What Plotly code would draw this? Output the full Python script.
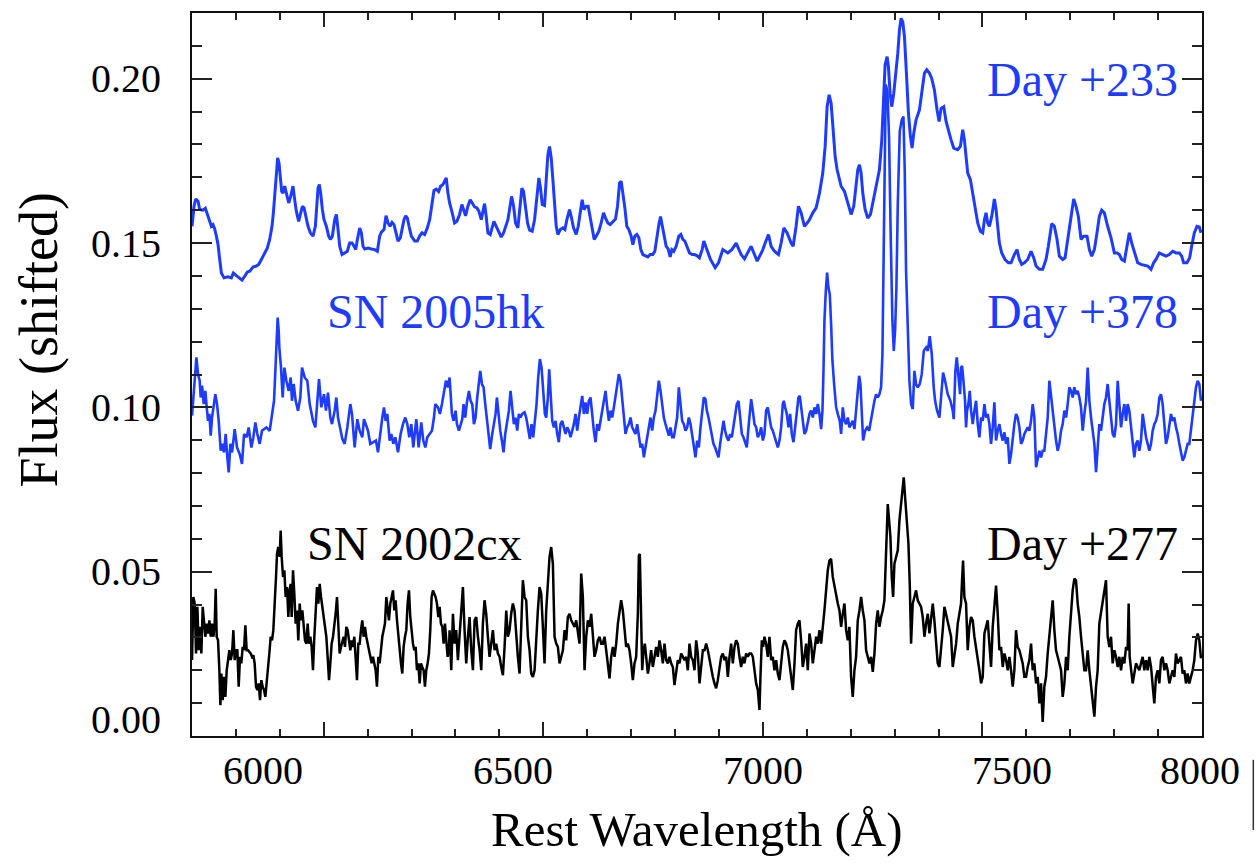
import plotly.graph_objects as go

# ---------------- data ----------------
wl_233 = [
5700.1, 5704.6, 5708.4, 5713.8, 5717.5, 5725.1, 5730.4, 5735.0, 5740.3, 5744.1,
5747.9, 5751.7, 5755.5, 5759.3, 5763.1, 5766.9, 5773.0, 5782.0, 5789.6, 5794.2,
5801.0, 5806.3, 5813.9, 5820.0, 5826.1, 5831.4, 5839.0, 5846.5, 5851.9, 5858.0,
5865.5, 5871.6, 5876.9, 5882.2, 5885.3, 5888.3, 5890.6, 5892.8, 5895.1, 5898.2,
5901.2, 5904.2, 5907.3, 5911.1, 5914.9, 5920.2, 5924.7, 5930.0, 5933.8, 5937.6,
5942.9, 5947.5, 5951.3, 5955.1, 5959.6, 5964.2, 5969.5, 5975.6, 5980.9, 5983.9,
5987.0, 5990.0, 5993.0, 5996.9, 6000.7, 6006.0, 6011.3, 6015.1, 6019.6, 6025.0,
6028.8, 6032.6, 6036.4, 6041.7, 6047.8, 6053.8, 6059.1, 6064.4, 6069.0, 6072.8,
6076.6, 6081.9, 6085.7, 6089.5, 6093.3, 6100.9, 6108.5, 6116.1, 6122.1, 6127.4,
6131.2, 6137.3, 6141.8, 6146.4, 6150.9, 6155.5, 6160.0, 6165.3, 6169.1, 6174.4,
6179.0, 6182.8, 6186.6, 6190.4, 6194.2, 6199.5, 6207.1, 6213.1, 6218.4, 6223.8,
6229.8, 6235.9, 6241.2, 6246.5, 6251.0, 6256.3, 6261.6, 6266.2, 6271.5, 6276.8,
6279.0, 6282.8, 6286.6,
6292.6, 6297.9, 6303.3, 6309.3, 6314.6, 6318.4, 6323.0, 6328.3, 6333.6, 6338.2,
6343.5, 6348.8, 6353.3, 6358.7, 6362.4, 6366.2, 6370.0, 6373.8, 6379.1, 6383.7,
6387.5, 6392.8, 6398.9, 6404.2, 6409.5, 6414.0, 6419.4, 6423.1, 6427.7, 6432.3,
6436.8, 6442.1, 6446.7, 6451.2, 6455.0, 6459.6, 6464.1, 6468.7, 6474.7, 6480.1,
6485.4, 6489.9, 6493.7, 6497.5, 6502.8, 6506.6, 6510.4, 6514.2, 6518.0, 6521.8,
6525.6, 6529.4, 6533.2, 6538.5, 6544.6, 6549.1, 6553.7, 6559.7, 6564.3, 6568.8,
6574.9, 6579.5, 6584.0, 6588.6, 6592.4, 6597.7, 6602.2, 6606.8, 6611.3, 6615.9,
6620.4, 6626.5, 6631.8, 6637.1, 6641.7, 6647.0, 6652.3, 6658.4, 6664.4, 6669.0,
6673.6, 6677.3, 6681.1, 6685.7, 6690.2, 6694.8, 6700.1, 6703.9, 6708.5, 6713.0,
6717.6, 6722.1, 6726.7, 6732.7, 6738.1, 6743.4, 6749.4, 6754.0, 6758.5, 6763.1,
6766.9, 6770.7, 6774.5, 6779.8, 6784.3, 6788.9, 6792.7, 6797.2, 6802.5, 6808.6,
6813.2, 6817.7, 6822.3, 6826.8, 6832.9, 6838.9, 6844.3, 6849.6, 6855.6, 6861.7,
6865.5,
6880.7, 6891.3, 6898.9, 6908.8, 6920.2, 6929.3, 6939.2, 6950.5, 6958.1, 6965.7,
6973.3, 6980.9, 6987.0, 6994.5, 6999.9, 7005.2, 7012.8, 7018.8, 7026.4, 7035.5,
7041.6, 7047.7, 7055.2, 7064.4, 7068.9, 7075.7, 7081.0, 7087.1, 7094.7, 7100.8,
7106.1, 7113.7, 7121.3, 7128.9, 7136.4, 7141.8, 7146.3, 7150.9, 7155.4, 7160.0,
7164.5, 7169.1, 7178.2, 7185.8, 7193.4, 7201.0, 7207.0, 7212.3, 7216.1, 7219.9,
7223.7, 7227.5, 7232.8, 7238.9, 7245.0, 7250.3, 7257.9, 7265.4, 7270.8, 7274.5,
7278.3, 7282.9, 7285.9, 7289.7, 7293.5, 7298.1, 7303.4, 7307.2, 7311.0, 7314.8,
7318.6, 7322.4, 7326.9, 7331.5, 7336.0, 7339.8, 7343.6, 7348.9, 7356.5, 7361.8,
7367.9, 7373.2, 7379.2, 7384.6, 7390.6, 7396.7, 7401.3, 7405.8, 7411.9, 7417.2,
7422.5, 7428.6, 7434.6, 7443.7,
7449.8, 7455.1, 7458.9, 7462.7, 7466.5, 7472.6, 7477.9, 7483.2, 7489.3, 7495.4,
7500.7, 7504.5, 7508.3, 7512.0, 7515.8, 7521.2, 7527.2, 7531.0, 7534.8, 7538.6,
7543.9, 7551.5, 7559.1, 7565.2, 7572.7, 7578.8, 7584.1, 7589.4, 7595.5, 7603.1,
7610.7, 7616.8, 7622.1, 7629.7, 7637.2, 7644.8, 7650.1, 7654.7, 7657.7, 7663.8,
7669.9, 7675.2, 7682.8, 7688.1, 7694.2, 7701.7, 7707.8, 7713.1, 7718.4, 7724.5,
7730.6, 7738.2, 7743.5, 7748.8, 7754.9, 7760.9, 7766.2, 7771.6, 7777.6, 7785.2,
7792.8, 7800.4, 7806.5, 7811.8, 7817.1, 7823.2, 7829.2, 7834.5, 7839.9, 7845.9,
7853.5, 7861.1, 7868.7, 7876.3, 7883.9, 7889.9, 7895.2, 7902.8, 7910.4, 7918.0,
7925.6, 7933.2, 7940.8, 7948.4, 7953.7, 7958.2, 7965.8, 7971.9, 7976.4, 7982.5,
7988.6, 7993.9, 7997.7,
]
flux_233 = [
0.1551, 0.1612, 0.1634, 0.1627, 0.1602, 0.1600, 0.1606, 0.1587, 0.1561, 0.1551,
0.1556, 0.1543, 0.1521, 0.1495, 0.1450, 0.1409, 0.1394, 0.1397, 0.1394, 0.1409,
0.1401, 0.1394, 0.1387, 0.1399, 0.1412, 0.1414, 0.1427, 0.1430, 0.1435, 0.1450,
0.1470, 0.1485, 0.1511, 0.1551, 0.1592, 0.1652, 0.1703, 0.1743, 0.1759, 0.1743,
0.1703, 0.1657, 0.1652, 0.1673, 0.1652, 0.1622, 0.1642, 0.1673, 0.1632, 0.1597,
0.1566, 0.1592, 0.1612, 0.1607, 0.1576, 0.1551, 0.1531, 0.1521, 0.1551, 0.1612,
0.1667, 0.1678, 0.1652, 0.1602, 0.1571, 0.1551, 0.1521, 0.1511, 0.1521, 0.1571,
0.1587, 0.1541, 0.1490, 0.1465, 0.1470, 0.1475, 0.1500, 0.1500, 0.1490, 0.1480,
0.1511, 0.1546, 0.1531, 0.1490, 0.1482, 0.1485, 0.1482, 0.1480, 0.1475, 0.1521,
0.1533, 0.1541, 0.1583, 0.1561, 0.1551, 0.1563, 0.1556, 0.1531, 0.1506, 0.1516,
0.1546, 0.1571, 0.1583, 0.1576, 0.1551, 0.1521, 0.1506, 0.1506, 0.1521, 0.1531,
0.1526, 0.1546, 0.1571, 0.1622, 0.1660, 0.1664, 0.1657, 0.1673, 0.1678, 0.1693,
0.1698, 0.1652, 0.1622,
0.1592, 0.1561, 0.1566, 0.1587, 0.1617, 0.1602, 0.1583, 0.1612, 0.1632, 0.1622,
0.1610, 0.1607, 0.1597, 0.1571, 0.1597, 0.1620, 0.1581, 0.1531, 0.1526, 0.1546,
0.1566, 0.1551, 0.1531, 0.1518, 0.1531, 0.1551, 0.1571, 0.1602, 0.1642, 0.1612,
0.1561, 0.1546, 0.1602, 0.1667, 0.1657, 0.1612, 0.1561, 0.1539, 0.1536, 0.1571,
0.1632, 0.1698, 0.1667, 0.1617, 0.1614, 0.1693, 0.1769, 0.1794, 0.1759, 0.1693,
0.1612, 0.1551, 0.1526, 0.1541, 0.1546, 0.1541, 0.1571, 0.1602, 0.1576, 0.1546,
0.1526, 0.1551, 0.1592, 0.1632, 0.1602, 0.1612, 0.1612, 0.1581, 0.1546, 0.1511,
0.1521, 0.1536, 0.1561, 0.1592, 0.1576, 0.1561, 0.1556, 0.1566, 0.1573, 0.1612,
0.1683, 0.1688, 0.1657, 0.1607, 0.1551, 0.1541, 0.1521, 0.1495, 0.1521, 0.1526,
0.1516, 0.1480, 0.1465, 0.1460, 0.1458, 0.1465, 0.1465, 0.1475, 0.1521, 0.1556,
0.1581, 0.1556, 0.1521, 0.1490, 0.1482, 0.1458, 0.1480, 0.1475, 0.1490, 0.1521,
0.1526, 0.1511, 0.1506, 0.1490, 0.1470, 0.1465, 0.1465, 0.1462, 0.1455, 0.1480,
0.1506,
0.1450, 0.1425, 0.1440, 0.1480, 0.1470, 0.1480, 0.1500, 0.1465, 0.1452, 0.1472,
0.1490, 0.1465, 0.1445, 0.1465, 0.1480, 0.1500, 0.1526, 0.1490, 0.1475, 0.1465,
0.1500, 0.1546, 0.1531, 0.1500, 0.1490, 0.1551, 0.1612, 0.1592, 0.1551, 0.1561,
0.1571, 0.1592, 0.1607, 0.1652, 0.1713, 0.1794, 0.1915, 0.1951, 0.1926, 0.1845,
0.1764, 0.1723, 0.1673, 0.1657, 0.1622, 0.1587, 0.1612, 0.1673, 0.1723, 0.1738,
0.1713, 0.1652, 0.1602, 0.1576, 0.1587, 0.1622, 0.1673, 0.1723, 0.1814, 0.1946,
0.2042, 0.2067, 0.2037, 0.1956, 0.1915, 0.1956, 0.2017, 0.2077, 0.2148, 0.2184,
0.2173, 0.2128, 0.2017, 0.1895, 0.1824, 0.1789, 0.1834, 0.1875, 0.1905, 0.1966,
0.2017, 0.2027, 0.2017, 0.2001, 0.1966, 0.1905, 0.1870, 0.1910, 0.1915, 0.1870,
0.1840, 0.1814, 0.1789, 0.1784,
0.1794, 0.1845, 0.1814, 0.1764, 0.1713, 0.1693, 0.1652, 0.1602, 0.1561, 0.1536,
0.1531, 0.1571, 0.1592, 0.1561, 0.1551, 0.1581, 0.1634, 0.1602, 0.1551, 0.1500,
0.1470, 0.1450, 0.1440, 0.1440, 0.1465, 0.1480, 0.1450, 0.1435, 0.1440, 0.1450,
0.1475, 0.1455, 0.1430, 0.1420, 0.1420, 0.1450, 0.1490, 0.1531, 0.1559, 0.1551,
0.1511, 0.1460, 0.1450, 0.1455, 0.1511, 0.1592, 0.1634, 0.1612, 0.1581, 0.1511,
0.1521, 0.1521, 0.1480, 0.1460, 0.1480, 0.1531, 0.1581, 0.1600, 0.1592, 0.1551,
0.1516, 0.1470, 0.1470, 0.1465, 0.1450, 0.1445, 0.1490, 0.1531, 0.1500, 0.1470,
0.1440, 0.1435, 0.1432, 0.1430, 0.1420, 0.1440, 0.1450, 0.1470, 0.1465, 0.1460,
0.1465, 0.1475, 0.1470, 0.1470, 0.1460, 0.1440, 0.1440, 0.1455, 0.1490, 0.1531,
0.1551, 0.1549, 0.1531,
]

wl_378 = [
5700.1, 5704.6, 5710.0, 5713.8, 5717.5, 5719.8, 5722.9, 5726.7, 5730.4, 5733.5,
5736.5, 5739.6, 5742.6, 5745.6, 5749.4, 5753.2, 5757.0, 5760.8, 5765.4, 5769.1,
5772.9, 5776.7, 5780.5, 5783.6, 5787.4, 5791.2, 5797.2, 5802.5, 5808.6, 5813.9,
5818.5, 5824.5, 5829.1, 5835.2, 5839.7, 5844.3, 5848.8, 5854.1, 5859.4, 5869.3,
5876.9, 5882.2, 5886.8, 5889.8, 5892.8, 5895.1, 5897.4, 5898.9, 5902.7, 5906.5,
5910.3, 5914.9, 5920.2, 5924.7, 5927.7, 5931.5, 5936.1, 5941.4, 5946.7, 5950.5,
5956.6, 5962.6, 5968.0, 5975.5, 5980.9, 5985.4, 5989.2, 5994.5, 6000.6, 6005.1,
6009.7, 6015.0, 6018.8, 6024.9, 6028.7, 6032.5, 6037.0, 6042.3, 6047.6, 6053.7,
6060.5, 6064.3, 6070.4, 6076.5, 6081.8, 6087.8, 6091.6, 6097.0, 6100.7, 6106.0,
6112.9, 6118.9, 6123.5, 6128.8, 6133.4, 6137.2, 6141.0, 6144.7, 6150.1, 6153.9,
6158.4, 6163.0, 6169.1, 6175.1, 6180.4, 6185.7, 6190.3, 6194.8, 6199.4, 6203.9,
6207.0, 6210.8, 6216.1, 6222.1, 6226.7, 6231.3, 6235.8, 6241.1, 6246.4, 6251.0,
6254.0, 6260.1, 6264.6, 6269.2, 6273.7, 6278.3, 6282.8, 6286.6,
6291.9, 6295.7, 6300.2, 6303.3, 6307.8, 6311.6, 6315.4, 6318.4, 6322.2, 6326.0,
6330.6, 6334.4, 6338.2, 6342.0, 6345.7, 6349.5, 6353.3, 6356.4, 6360.2, 6364.0,
6367.8, 6371.6, 6375.3, 6379.1, 6383.7, 6387.5, 6391.3, 6394.3, 6398.1, 6401.9,
6405.7, 6409.5, 6413.3, 6417.8, 6421.6, 6425.4, 6429.2, 6433.0, 6436.8, 6440.6,
6444.4, 6448.2, 6452.0, 6457.3, 6461.1, 6465.6, 6469.4, 6473.2, 6477.0, 6480.8,
6484.6, 6488.4, 6492.2, 6496.0, 6499.8, 6503.6, 6506.6, 6510.4, 6513.4, 6516.5,
6520.3, 6524.1, 6527.9, 6531.7, 6535.4, 6539.2, 6543.0, 6546.8, 6550.6, 6554.4,
6558.2, 6562.0, 6565.8, 6569.6, 6573.4, 6577.2, 6581.0, 6584.8, 6588.6, 6592.4,
6596.2, 6599.9, 6603.7, 6607.5, 6611.3, 6615.1, 6618.9, 6622.7, 6626.5, 6630.3,
6634.1, 6637.9, 6641.7, 6645.5, 6649.3, 6653.1, 6656.9, 6660.7, 6664.4, 6668.2,
6672.0, 6675.8, 6679.6, 6683.4, 6687.2, 6691.0, 6694.8, 6698.6, 6702.4, 6706.2,
6710.0, 6713.8, 6717.6, 6721.4, 6725.2, 6729.0, 6732.7, 6736.5, 6740.3, 6744.1,
6747.9, 6751.7, 6755.5, 6759.3, 6763.1, 6766.9, 6770.7, 6774.5, 6778.3, 6782.1,
6785.9, 6789.6, 6793.4, 6797.2, 6801.0, 6804.8, 6808.6, 6812.4, 6816.2, 6820.0,
6823.8, 6827.6, 6831.4, 6835.2, 6839.0, 6842.8, 6846.6, 6850.4, 6854.2, 6857.9,
6861.7, 6865.5,
6869.3, 6872.4, 6876.2, 6880.0, 6883.8, 6887.5, 6891.3, 6895.1, 6898.9, 6902.7,
6906.5, 6910.3, 6914.1, 6917.9, 6921.7, 6925.5, 6929.3, 6933.1, 6936.9, 6940.7,
6944.5, 6948.3, 6952.1, 6955.8, 6959.6, 6963.4, 6967.2, 6971.0, 6973.3, 6977.1,
6980.9, 6984.7, 6988.5, 6992.3, 6996.1, 6999.9, 7003.6, 7007.4, 7011.2, 7015.0,
7018.8, 7022.6, 7026.4, 7030.2, 7034.0, 7037.8, 7041.6, 7045.4, 7047.7, 7050.7,
7054.5, 7058.3, 7062.1, 7065.9, 7069.7, 7073.5, 7077.3, 7081.0, 7084.1, 7087.1,
7090.9, 7094.7, 7098.5, 7102.3, 7106.1, 7109.9, 7113.7, 7117.5, 7121.3, 7125.1,
7128.9, 7132.7, 7135.7, 7138.0, 7140.2, 7143.3, 7146.3, 7149.3, 7152.4, 7155.4,
7158.4, 7162.2, 7166.8, 7170.6, 7175.1, 7178.2, 7182.0, 7185.8, 7189.6, 7193.4,
7197.1, 7200.9, 7204.7, 7208.5, 7212.3, 7216.1, 7219.2, 7222.2, 7225.2, 7228.3,
7232.8, 7237.4, 7241.9, 7246.5, 7250.3, 7254.1, 7257.9, 7261.6, 7265.4, 7269.2,
7272.3, 7274.5, 7276.8, 7279.8, 7283.6, 7287.4, 7291.2, 7295.0, 7298.1, 7301.1,
7304.1, 7307.2, 7311.7, 7316.3, 7320.1, 7323.1, 7326.1, 7330.0, 7333.7, 7337.5,
7341.3, 7345.1, 7348.9, 7352.7, 7357.3, 7361.8, 7366.4, 7371.7, 7375.5, 7380.0,
7384.6, 7389.1, 7392.2, 7396.7, 7402.0, 7405.8, 7410.4, 7414.9, 7421.0, 7427.1,
7432.4, 7434.6, 7438.4, 7441.5, 7445.3, 7449.1,
7451.3, 7453.6, 7456.7, 7460.4, 7462.7, 7465.0, 7468.0, 7471.1, 7474.1, 7477.9,
7481.7, 7485.5, 7489.3, 7493.1, 7496.9, 7500.7, 7504.5, 7508.3, 7512.0, 7515.8,
7519.6, 7523.4, 7527.2, 7531.0, 7534.8, 7538.6, 7542.4, 7546.2, 7550.0, 7553.8,
7557.6, 7561.4, 7565.2, 7569.0, 7572.7, 7576.5, 7580.3, 7584.1, 7587.9, 7591.7,
7595.5, 7599.3, 7603.1, 7606.9, 7610.7, 7614.5, 7618.3, 7622.1, 7625.9, 7629.7,
7633.5, 7637.2, 7641.0, 7644.8, 7648.6, 7652.4, 7656.2, 7660.0, 7663.8, 7667.6,
7671.4, 7675.2, 7679.0, 7682.8, 7686.6, 7690.4, 7694.2, 7697.9, 7701.7, 7705.5,
7709.3, 7713.1, 7716.9, 7720.7, 7724.5, 7728.3, 7732.1, 7735.9, 7739.7, 7743.5,
7747.3, 7751.1, 7754.9, 7758.7, 7762.4, 7766.2, 7770.0, 7773.8, 7777.6, 7781.4,
7785.2, 7789.0, 7792.8, 7796.6, 7800.4, 7804.2, 7808.0, 7811.8, 7815.6, 7819.4,
7823.2, 7827.0, 7830.7, 7834.5, 7838.3, 7842.1, 7845.9, 7849.7, 7853.5, 7857.3,
7861.1, 7864.9, 7868.7, 7872.5, 7876.3, 7880.1, 7883.9, 7887.7, 7891.4, 7895.2,
7899.0, 7902.8, 7906.6, 7910.4, 7914.2, 7918.0, 7921.8, 7925.6, 7929.4, 7933.2,
7937.0, 7940.8, 7944.6, 7948.4, 7952.1, 7955.9, 7959.7, 7963.5, 7967.3, 7971.1,
7974.9, 7978.7, 7982.5, 7986.3, 7990.1, 7993.9, 7997.7,
]
flux_378 = [
0.0975, 0.1061, 0.1152, 0.1101, 0.1081, 0.1030, 0.1066, 0.1010, 0.1050, 0.1000,
0.0959, 0.0980, 0.0914, 0.0969, 0.1010, 0.1040, 0.1010, 0.0959, 0.0868, 0.0889,
0.0863, 0.0919, 0.0848, 0.0802, 0.0889, 0.0863, 0.0934, 0.0878, 0.0858, 0.0828,
0.0919, 0.0909, 0.0939, 0.0878, 0.0909, 0.0954, 0.0919, 0.0889, 0.0929, 0.0939,
0.0929, 0.0980, 0.1020, 0.1111, 0.1233, 0.1273, 0.1233, 0.1182, 0.1121, 0.1030,
0.1121, 0.1081, 0.1050, 0.1091, 0.1020, 0.1071, 0.1020, 0.0990, 0.1030, 0.1121,
0.1091, 0.1081, 0.1010, 0.0959, 0.0939, 0.1020, 0.1086, 0.1000, 0.1040, 0.0990,
0.1045, 0.0969, 0.0949, 0.0990, 0.1030, 0.0969, 0.0939, 0.0904, 0.0889, 0.0939,
0.1010, 0.0980, 0.0878, 0.0964, 0.0929, 0.0909, 0.0964, 0.0939, 0.0929, 0.0889,
0.0894, 0.0899, 0.0863, 0.0929, 0.0969, 0.1000, 0.0959, 0.0980, 0.0899, 0.0919,
0.0889, 0.0909, 0.0863, 0.0919, 0.0949, 0.0969, 0.0949, 0.0909, 0.0949, 0.0878,
0.0919, 0.0964, 0.0878, 0.0954, 0.0899, 0.0878, 0.0909, 0.0919, 0.0929, 0.0969,
0.1010, 0.1000, 0.0980, 0.1010, 0.1050, 0.1081, 0.1061, 0.1091,
0.0980, 0.0959, 0.0990, 0.0949, 0.0929, 0.0949, 0.0964, 0.1010, 0.0969, 0.1015,
0.1050, 0.1020, 0.1010, 0.0949, 0.0969, 0.1030, 0.1081, 0.1111, 0.1071, 0.1061,
0.1010, 0.0969, 0.0929, 0.0873, 0.0919, 0.0949, 0.0980, 0.1030, 0.0969, 0.0929,
0.0899, 0.0863, 0.0919, 0.0959, 0.0990, 0.1050, 0.1000, 0.0949, 0.0969, 0.0929,
0.0980, 0.0969, 0.0980, 0.0985, 0.0969, 0.0929, 0.0904, 0.0949, 0.0909, 0.0959,
0.1010, 0.1091, 0.1147, 0.1121, 0.1050, 0.0980, 0.0969, 0.1030, 0.1116, 0.1040,
0.0959, 0.0939, 0.0959, 0.0919, 0.0894, 0.0949, 0.0959, 0.0939, 0.0919, 0.0939,
0.0929, 0.0909, 0.0929, 0.0949, 0.0980, 0.0929, 0.0969, 0.1010, 0.1035, 0.0980,
0.1015, 0.0980, 0.1020, 0.1030, 0.0969, 0.0929, 0.0894, 0.0949, 0.0929, 0.0959,
0.0990, 0.1020, 0.1050, 0.1000, 0.0959, 0.0990, 0.0969, 0.1000, 0.1030, 0.1071,
0.1101, 0.1081, 0.1030, 0.0959, 0.0919, 0.0939, 0.0949, 0.0969, 0.0939, 0.0929,
0.0919, 0.0949, 0.0909, 0.0878, 0.0889, 0.0848, 0.0878, 0.0909, 0.0939, 0.0969,
0.0929, 0.0969, 0.0990, 0.1030, 0.1081, 0.1050, 0.1010, 0.0969, 0.0949, 0.0929,
0.0914, 0.0939, 0.0909, 0.0909, 0.0939, 0.0969, 0.1061, 0.1000, 0.0959, 0.0949,
0.0929, 0.0939, 0.0969, 0.0949, 0.0919, 0.0889, 0.0848, 0.0899, 0.0878, 0.0939,
0.0990, 0.1030,
0.1025, 0.0990, 0.0969, 0.0939, 0.0909, 0.0889, 0.0878, 0.0863, 0.0848, 0.0889,
0.0929, 0.0959, 0.0929, 0.0909, 0.0899, 0.0919, 0.0909, 0.0939, 0.0980, 0.1010,
0.1020, 0.0959, 0.0919, 0.0909, 0.0889, 0.0878, 0.0939, 0.1010, 0.1025, 0.0990,
0.0949, 0.0939, 0.0909, 0.0919, 0.0939, 0.0899, 0.0919, 0.0990, 0.1000, 0.0969,
0.0939, 0.0929, 0.0909, 0.0889, 0.0878, 0.0899, 0.0939, 0.1010, 0.1020, 0.1000,
0.0980, 0.0939, 0.0980, 0.0919, 0.0894, 0.0939, 0.0990, 0.1030, 0.1035, 0.1000,
0.0949, 0.0919, 0.0929, 0.0959, 0.0980, 0.0990, 0.0969, 0.1000, 0.0980, 0.1010,
0.0980, 0.0934, 0.0990, 0.1111, 0.1263, 0.1354, 0.1410, 0.1364, 0.1344, 0.1253,
0.1142, 0.1071, 0.1000, 0.0980, 0.0959, 0.0919, 0.1000, 0.0959, 0.0949, 0.0969,
0.0939, 0.0949, 0.0959, 0.0934, 0.0990, 0.1050, 0.1096, 0.1071, 0.0990, 0.0899,
0.0929, 0.0939, 0.0929, 0.0969, 0.1000, 0.1020, 0.1040, 0.1030, 0.1040, 0.1061,
0.1162, 0.1415, 0.1820, 0.1982, 0.1961, 0.1820, 0.1516, 0.1263, 0.1172, 0.1233,
0.1364, 0.1617, 0.1840, 0.1875, 0.1885, 0.1718, 0.1415, 0.1212, 0.1081, 0.1010,
0.0995, 0.1111, 0.1071, 0.1061, 0.1071, 0.1101, 0.1172, 0.1182, 0.1172, 0.1217,
0.1162, 0.1061, 0.1020, 0.0990, 0.0969, 0.1030, 0.1106, 0.1081, 0.1040, 0.1020,
0.0990, 0.0964, 0.1111, 0.1152, 0.1091, 0.1040,
0.1121, 0.1126, 0.1081, 0.1020, 0.0939, 0.0990, 0.1010, 0.1050, 0.0990, 0.0949,
0.0990, 0.1020, 0.0949, 0.0909, 0.0969, 0.0959, 0.1010, 0.0969, 0.0980, 0.0949,
0.0889, 0.0939, 0.1015, 0.0899, 0.0929, 0.0949, 0.0919, 0.0899, 0.0924, 0.0889,
0.0909, 0.0828, 0.0858, 0.0909, 0.0949, 0.0980, 0.0969, 0.0939, 0.0889, 0.0899,
0.0919, 0.0929, 0.0939, 0.0929, 0.0959, 0.1010, 0.0969, 0.0818, 0.0848, 0.0868,
0.0848, 0.0868, 0.0868, 0.0919, 0.0969, 0.1081, 0.1030, 0.0990, 0.0929, 0.0899,
0.0868, 0.0889, 0.0929, 0.0949, 0.0990, 0.0969, 0.1010, 0.1061, 0.1050, 0.1030,
0.1061, 0.1040, 0.1050, 0.1030, 0.1000, 0.0929, 0.0980, 0.1020, 0.1121, 0.1020,
0.0969, 0.0919, 0.0889, 0.0803, 0.0878, 0.0949, 0.0929, 0.0980, 0.1010, 0.1030,
0.1071, 0.1020, 0.0969, 0.0919, 0.0909, 0.0949, 0.1081, 0.0990, 0.0939, 0.0980,
0.1010, 0.0959, 0.1010, 0.0990, 0.0939, 0.0889, 0.0848, 0.0889, 0.0899, 0.0868,
0.0899, 0.0980, 0.0939, 0.0909, 0.0889, 0.0868, 0.0889, 0.0929, 0.0949, 0.0959,
0.0980, 0.1030, 0.1040, 0.1010, 0.0949, 0.0889, 0.0909, 0.0949, 0.0980, 0.0959,
0.0969, 0.0939, 0.0919, 0.0889, 0.0868, 0.0838, 0.0848, 0.0868, 0.0889, 0.0889,
0.0929, 0.0969, 0.1010, 0.1061, 0.1081, 0.1071, 0.1020,
]

wl_277 = [
5700.1, 5703.1, 5706.2, 5709.2, 5712.2, 5715.3, 5718.3, 5721.3, 5724.4, 5727.4,
5730.4, 5733.5, 5736.5, 5739.6, 5742.6, 5745.6, 5748.7, 5751.7, 5754.0, 5756.2,
5759.3, 5762.3, 5764.6, 5766.9, 5769.9, 5772.9, 5776.0, 5779.0, 5782.0, 5785.1,
5788.1, 5791.2, 5794.2, 5797.2, 5800.3, 5803.3, 5806.3, 5809.4, 5812.4, 5815.4,
5818.5, 5821.5, 5824.5, 5827.6, 5830.6, 5833.6, 5836.7, 5839.7, 5842.7, 5845.8,
5848.8, 5851.9, 5854.9, 5857.9, 5861.0, 5864.0, 5867.0, 5870.1, 5873.1, 5876.1,
5879.2, 5882.2, 5885.2, 5888.3, 5891.3, 5893.6, 5896.6, 5899.7, 5901.9, 5904.2,
5907.3, 5910.3, 5913.3, 5916.4, 5919.4, 5922.4, 5924.7, 5927.0, 5930.0, 5933.0,
5936.1, 5939.1, 5942.1, 5945.2, 5948.2, 5951.3, 5954.3, 5957.3, 5960.4, 5963.4,
5966.4, 5969.5, 5972.5, 5975.5, 5978.6, 5981.6, 5984.6, 5987.7, 5990.7, 5993.8,
5996.8, 5999.8, 6002.9, 6005.9, 6008.9, 6012.0, 6015.0, 6018.0, 6021.1, 6024.1,
6027.1, 6030.2, 6033.2, 6036.2, 6039.3, 6042.3, 6045.4, 6048.4, 6051.4, 6054.5,
6057.5, 6060.5, 6063.6, 6066.6, 6069.6, 6072.7, 6075.7, 6078.7, 6081.8, 6084.8,
6087.8, 6090.9, 6093.9, 6096.9, 6100.0, 6103.0, 6106.0, 6109.1, 6112.1, 6115.2,
6118.2, 6121.2, 6124.3, 6127.3, 6130.3, 6133.4, 6136.4, 6139.4, 6142.5, 6145.5,
6148.5, 6151.6, 6154.6, 6157.7, 6160.7, 6163.7, 6166.8, 6169.8, 6172.8, 6175.9,
6178.9, 6181.9, 6185.0, 6188.0, 6191.0, 6194.1, 6197.1, 6200.1, 6203.2, 6206.2,
6209.3, 6212.3, 6215.3, 6218.4, 6221.4, 6224.4, 6227.5, 6230.5, 6233.5, 6236.6,
6239.6, 6242.6, 6245.7, 6248.7, 6251.7, 6254.8, 6257.8, 6260.9, 6263.9, 6266.9,
6270.0, 6273.0, 6276.0, 6279.1, 6282.1, 6285.1,
6286.6, 6290.4, 6294.2, 6298.0, 6301.7, 6305.5, 6309.3, 6313.1, 6316.9, 6320.7,
6324.5, 6328.3, 6332.1, 6335.9, 6339.7, 6343.5, 6347.3, 6351.1, 6354.9, 6358.7,
6362.4, 6366.2, 6370.0, 6373.8, 6377.6, 6381.4, 6385.2, 6389.0, 6392.8, 6396.6,
6400.4, 6404.2, 6408.0, 6411.8, 6415.6, 6419.4, 6423.1, 6426.9, 6430.7, 6434.5,
6438.3, 6442.1, 6445.9, 6449.7, 6453.5, 6457.3, 6461.1, 6464.9, 6468.7, 6472.5,
6476.3, 6480.1, 6483.9, 6487.6, 6491.4, 6495.2, 6499.0, 6502.8, 6506.6, 6510.4,
6514.2, 6518.0, 6521.8, 6525.6, 6529.4, 6533.2, 6537.0, 6540.8, 6544.6, 6548.4,
6552.1, 6555.9, 6559.7, 6563.5, 6567.3, 6571.1, 6574.9, 6578.7, 6582.5, 6586.3,
6590.1, 6593.9, 6597.7, 6601.5, 6605.3, 6609.1, 6612.8, 6616.6, 6620.4, 6624.2,
6628.0, 6631.8, 6635.6, 6639.4, 6643.2, 6647.0, 6650.8, 6654.6, 6658.4, 6662.2,
6666.0, 6669.8, 6673.6, 6677.3, 6681.1, 6684.9, 6688.7, 6692.5, 6696.3, 6700.1,
6703.9, 6707.7, 6711.5, 6715.3, 6717.6, 6719.8, 6722.1, 6725.2, 6728.2, 6731.2,
6734.3, 6738.1, 6741.8, 6745.6, 6749.4, 6753.2, 6757.0, 6760.8, 6764.6, 6768.4,
6772.2, 6776.0, 6779.8, 6783.6, 6787.4, 6791.2, 6795.0, 6798.7, 6802.5, 6806.3,
6810.1, 6813.9, 6817.7, 6821.5, 6825.3, 6829.1, 6832.9, 6836.7, 6840.5, 6844.3,
6848.1, 6851.9, 6855.7, 6859.5, 6863.3, 6867.1,
6870.9, 6874.7, 6878.4, 6882.2, 6886.0, 6889.8, 6893.6, 6897.4, 6901.2, 6905.0,
6908.8, 6912.6, 6916.4, 6920.2, 6924.0, 6927.8, 6931.6, 6935.4, 6939.2, 6942.9,
6946.7, 6950.5, 6954.3, 6958.1, 6961.9, 6965.7, 6969.5, 6973.3, 6977.1, 6980.9,
6984.7, 6988.5, 6992.3, 6994.5, 6997.6, 7000.6, 7003.6, 7007.4, 7011.2, 7015.0,
7018.8, 7022.6, 7026.4, 7030.2, 7034.0, 7037.8, 7041.6, 7045.4, 7049.2, 7053.0,
7056.8, 7060.6, 7064.4, 7068.2, 7072.0, 7075.7, 7079.5, 7083.3, 7087.1, 7090.9,
7094.7, 7098.5, 7102.3, 7106.1, 7109.9, 7113.7, 7117.5, 7121.3, 7125.1, 7128.9,
7132.7, 7136.4, 7140.2, 7144.0, 7147.8, 7151.6, 7155.4, 7159.2, 7163.0, 7166.8,
7170.6, 7174.4, 7178.2, 7182.0, 7185.8, 7189.6, 7193.4, 7197.1, 7200.9, 7204.7,
7208.5, 7212.3, 7216.1, 7219.9, 7223.7, 7227.5, 7231.3, 7235.1, 7238.9, 7242.7,
7246.5, 7250.3, 7254.1, 7257.9, 7261.6, 7265.4, 7269.2, 7273.0, 7276.8, 7279.1,
7281.4, 7284.4, 7287.5, 7290.5, 7293.5, 7296.6, 7299.6, 7303.4, 7307.2, 7311.0,
7314.8, 7318.6, 7320.8, 7323.9, 7327.7, 7331.5, 7334.5, 7337.5, 7341.3, 7345.1,
7348.9, 7352.7, 7356.5, 7360.3, 7364.1, 7367.9, 7371.7, 7375.5, 7379.3, 7383.1,
7386.9, 7390.6, 7394.4, 7398.2, 7402.0, 7405.8, 7409.6, 7413.4, 7417.2, 7421.0,
7424.8, 7428.6, 7432.4, 7436.2, 7440.0, 7443.8, 7447.6,
7451.3, 7453.6, 7455.9, 7458.9, 7462.7, 7466.5, 7470.3, 7474.1, 7477.9, 7481.7,
7485.5, 7489.3, 7493.1, 7496.9, 7500.7, 7504.5, 7508.3, 7512.0, 7515.8, 7519.6,
7523.4, 7527.2, 7531.0, 7534.8, 7538.6, 7542.4, 7546.2, 7550.0, 7553.8, 7557.6,
7561.4, 7565.2, 7569.0, 7572.7, 7576.5, 7580.3, 7584.1, 7587.9, 7591.7, 7595.5,
7599.3, 7603.1, 7606.9, 7610.7, 7614.5, 7618.3, 7622.1, 7625.9, 7629.7, 7633.5,
7637.2, 7641.0, 7644.8, 7648.6, 7652.4, 7656.2, 7660.0, 7663.8, 7667.6, 7671.4,
7675.2, 7679.0, 7682.8, 7686.6, 7690.4, 7694.2, 7697.9, 7701.7, 7705.5, 7709.3,
7713.1, 7716.9, 7720.7, 7724.5, 7728.3, 7732.1, 7735.9, 7739.7, 7743.5, 7747.3,
7751.1, 7754.9, 7758.7, 7762.4, 7766.2, 7770.0, 7773.8, 7777.6, 7781.4, 7785.2,
7789.0, 7792.8, 7796.6, 7800.4, 7804.2, 7808.0, 7811.8, 7815.6, 7819.4, 7823.2,
7827.0, 7830.7, 7833.0, 7835.3, 7838.3, 7842.1, 7845.9, 7849.7, 7853.5, 7857.3,
7861.1, 7864.9, 7868.7, 7872.5, 7876.3, 7880.1, 7883.9, 7887.7, 7891.4, 7895.2,
7899.0, 7902.8, 7906.6, 7910.4, 7914.2, 7918.0, 7921.8, 7925.6, 7929.4, 7933.2,
7937.0, 7940.8, 7944.6, 7948.4, 7952.1, 7955.9, 7959.7, 7963.5, 7967.3, 7971.1,
7974.9, 7978.7, 7982.5, 7986.3, 7990.1, 7993.9, 7997.7,
]
flux_277 = [
0.0231, 0.0423, 0.0403, 0.0251, 0.0393, 0.0261, 0.0332, 0.0251, 0.0393, 0.0352,
0.0302, 0.0342, 0.0312, 0.0352, 0.0302, 0.0342, 0.0302, 0.0342, 0.0448, 0.0302,
0.0291, 0.0200, 0.0094, 0.0190, 0.0109, 0.0180, 0.0119, 0.0200, 0.0241, 0.0261,
0.0231, 0.0251, 0.0322, 0.0231, 0.0261, 0.0261, 0.0150, 0.0241, 0.0221, 0.0271,
0.0261, 0.0337, 0.0261, 0.0261, 0.0256, 0.0251, 0.0241, 0.0246, 0.0221, 0.0150,
0.0140, 0.0160, 0.0109, 0.0170, 0.0150, 0.0140, 0.0119, 0.0160, 0.0210, 0.0251,
0.0302, 0.0291, 0.0322, 0.0393, 0.0484, 0.0555, 0.0575, 0.0545, 0.0625, 0.0545,
0.0484, 0.0504, 0.0423, 0.0453, 0.0362, 0.0443, 0.0463, 0.0362, 0.0504, 0.0433,
0.0342, 0.0382, 0.0291, 0.0403, 0.0352, 0.0382, 0.0342, 0.0291, 0.0281, 0.0342,
0.0281, 0.0302, 0.0271, 0.0200, 0.0302, 0.0382, 0.0453, 0.0403, 0.0463, 0.0423,
0.0393, 0.0352, 0.0332, 0.0302, 0.0241, 0.0170, 0.0221, 0.0281, 0.0302, 0.0332,
0.0372, 0.0423, 0.0332, 0.0251, 0.0271, 0.0291, 0.0302, 0.0271, 0.0332, 0.0322,
0.0281, 0.0261, 0.0291, 0.0271, 0.0302, 0.0241, 0.0170, 0.0281, 0.0281, 0.0322,
0.0352, 0.0302, 0.0332, 0.0302, 0.0281, 0.0261, 0.0251, 0.0221, 0.0241, 0.0221,
0.0200, 0.0150, 0.0241, 0.0221, 0.0271, 0.0302, 0.0322, 0.0342, 0.0423, 0.0382,
0.0352, 0.0403, 0.0423, 0.0443, 0.0382, 0.0413, 0.0352, 0.0302, 0.0261, 0.0221,
0.0190, 0.0271, 0.0302, 0.0322, 0.0403, 0.0443, 0.0362, 0.0312, 0.0281, 0.0261,
0.0271, 0.0200, 0.0221, 0.0160, 0.0221, 0.0210, 0.0200, 0.0150, 0.0200, 0.0221,
0.0251, 0.0322, 0.0423, 0.0443, 0.0433, 0.0423, 0.0403, 0.0362, 0.0393, 0.0342,
0.0332, 0.0281, 0.0342, 0.0281, 0.0241, 0.0261,
0.0322, 0.0200, 0.0372, 0.0281, 0.0322, 0.0231, 0.0302, 0.0372, 0.0453, 0.0322,
0.0221, 0.0302, 0.0362, 0.0261, 0.0200, 0.0352, 0.0362, 0.0302, 0.0261, 0.0200,
0.0342, 0.0413, 0.0372, 0.0302, 0.0241, 0.0281, 0.0322, 0.0261, 0.0281, 0.0251,
0.0241, 0.0210, 0.0185, 0.0271, 0.0382, 0.0302, 0.0322, 0.0372, 0.0403, 0.0382,
0.0302, 0.0241, 0.0190, 0.0322, 0.0474, 0.0423, 0.0413, 0.0302, 0.0261, 0.0190,
0.0180, 0.0200, 0.0302, 0.0382, 0.0453, 0.0433, 0.0332, 0.0221, 0.0382, 0.0484,
0.0545, 0.0575, 0.0524, 0.0302, 0.0281, 0.0271, 0.0221, 0.0241, 0.0261, 0.0322,
0.0291, 0.0362, 0.0372, 0.0352, 0.0342, 0.0332, 0.0352, 0.0312, 0.0281, 0.0494,
0.0423, 0.0200, 0.0302, 0.0352, 0.0332, 0.0372, 0.0302, 0.0241, 0.0261, 0.0291,
0.0302, 0.0281, 0.0281, 0.0302, 0.0261, 0.0221, 0.0175, 0.0241, 0.0271, 0.0241,
0.0281, 0.0342, 0.0382, 0.0413, 0.0382, 0.0322, 0.0271, 0.0281, 0.0261, 0.0221,
0.0170, 0.0221, 0.0241, 0.0372, 0.0549, 0.0554, 0.0362, 0.0200, 0.0261, 0.0281,
0.0241, 0.0190, 0.0221, 0.0261, 0.0210, 0.0241, 0.0271, 0.0241, 0.0291, 0.0261,
0.0221, 0.0281, 0.0231, 0.0221, 0.0241, 0.0221, 0.0210, 0.0155, 0.0200, 0.0231,
0.0221, 0.0251, 0.0241, 0.0231, 0.0241, 0.0200, 0.0281, 0.0241, 0.0231, 0.0200,
0.0291, 0.0251, 0.0160, 0.0221, 0.0261, 0.0261,
0.0281, 0.0261, 0.0231, 0.0200, 0.0180, 0.0160, 0.0145, 0.0170, 0.0200, 0.0241,
0.0251, 0.0231, 0.0241, 0.0180, 0.0241, 0.0281, 0.0221, 0.0271, 0.0291, 0.0281,
0.0241, 0.0210, 0.0241, 0.0221, 0.0251, 0.0241, 0.0251, 0.0251, 0.0241, 0.0200,
0.0160, 0.0140, 0.0079, 0.0180, 0.0291, 0.0271, 0.0302, 0.0281, 0.0241, 0.0302,
0.0231, 0.0241, 0.0200, 0.0231, 0.0190, 0.0170, 0.0221, 0.0271, 0.0291, 0.0281,
0.0261, 0.0221, 0.0180, 0.0140, 0.0221, 0.0322, 0.0342, 0.0352, 0.0291, 0.0210,
0.0241, 0.0281, 0.0200, 0.0312, 0.0281, 0.0221, 0.0261, 0.0302, 0.0281, 0.0322,
0.0281, 0.0322, 0.0382, 0.0443, 0.0504, 0.0534, 0.0539, 0.0484, 0.0453, 0.0423,
0.0403, 0.0382, 0.0332, 0.0372, 0.0403, 0.0322, 0.0291, 0.0332, 0.0180, 0.0119,
0.0200, 0.0241, 0.0352, 0.0382, 0.0423, 0.0382, 0.0352, 0.0261, 0.0241, 0.0221,
0.0241, 0.0195, 0.0251, 0.0342, 0.0382, 0.0332, 0.0362, 0.0382, 0.0413, 0.0504,
0.0625, 0.0706, 0.0656, 0.0605, 0.0484, 0.0423, 0.0524, 0.0545, 0.0565, 0.0656,
0.0716, 0.0757, 0.0787, 0.0727, 0.0656, 0.0585, 0.0463, 0.0281, 0.0403, 0.0423,
0.0443, 0.0413, 0.0403, 0.0393, 0.0362, 0.0302, 0.0342, 0.0372, 0.0312, 0.0352,
0.0403, 0.0352, 0.0281, 0.0221, 0.0210, 0.0261, 0.0322, 0.0393, 0.0372, 0.0352,
0.0332, 0.0302, 0.0210, 0.0251, 0.0281, 0.0342, 0.0372,
0.0403, 0.0474, 0.0534, 0.0423, 0.0403, 0.0261, 0.0332, 0.0362, 0.0352, 0.0302,
0.0271, 0.0241, 0.0200, 0.0160, 0.0180, 0.0312, 0.0332, 0.0352, 0.0281, 0.0210,
0.0332, 0.0403, 0.0458, 0.0372, 0.0261, 0.0271, 0.0210, 0.0251, 0.0231, 0.0200,
0.0241, 0.0200, 0.0150, 0.0200, 0.0322, 0.0271, 0.0261, 0.0241, 0.0221, 0.0180,
0.0180, 0.0210, 0.0231, 0.0281, 0.0200, 0.0221, 0.0160, 0.0180, 0.0099, 0.0160,
0.0043, 0.0150, 0.0180, 0.0251, 0.0302, 0.0352, 0.0413, 0.0322, 0.0261, 0.0241,
0.0221, 0.0200, 0.0119, 0.0160, 0.0241, 0.0200, 0.0302, 0.0382, 0.0443, 0.0479,
0.0474, 0.0403, 0.0362, 0.0302, 0.0241, 0.0200, 0.0200, 0.0261, 0.0200, 0.0150,
0.0119, 0.0059, 0.0150, 0.0200, 0.0342, 0.0372, 0.0403, 0.0433, 0.0474, 0.0302,
0.0271, 0.0302, 0.0221, 0.0261, 0.0241, 0.0210, 0.0241, 0.0200, 0.0241, 0.0221,
0.0271, 0.0261, 0.0403, 0.0241, 0.0210, 0.0160, 0.0190, 0.0221, 0.0210, 0.0200,
0.0221, 0.0241, 0.0200, 0.0231, 0.0200, 0.0241, 0.0210, 0.0140, 0.0099, 0.0180,
0.0200, 0.0160, 0.0231, 0.0241, 0.0200, 0.0221, 0.0200, 0.0160, 0.0180, 0.0200,
0.0180, 0.0251, 0.0221, 0.0231, 0.0241, 0.0190, 0.0200, 0.0160, 0.0190, 0.0160,
0.0180, 0.0200, 0.0231, 0.0291, 0.0312, 0.0291, 0.0236,
]

assert len(wl_233) == len(flux_233), (len(wl_233), len(flux_233))
assert len(wl_378) == len(flux_378), (len(wl_378), len(flux_378))
assert len(wl_277) == len(flux_277), (len(wl_277), len(flux_277))

# tick labels as they appear in the reference
x_tick_text = ["6000", "6500", "7000", "7500", "8000"]
x_tick_text_pos = [5861, 6430, 7000, 7567, 7995]
y_tick_text = ["0.00", "0.05", "0.10", "0.15", "0.20"]
y_tick_text_pos = [0.005, 0.05, 0.10, 0.15, 0.20]

BLUE = "#1e3cff"
BLACK = "#000000"
FONT = "Liberation Serif"

fig = go.Figure()
fig.add_trace(go.Scatter(x=wl_233, y=flux_233, mode="lines",
                         line=dict(color=BLUE, width=3.0), hoverinfo="skip"))
fig.add_trace(go.Scatter(x=wl_378, y=flux_378, mode="lines",
                         line=dict(color=BLUE, width=2.6), hoverinfo="skip"))
fig.add_trace(go.Scatter(x=wl_277, y=flux_277, mode="lines",
                         line=dict(color=BLACK, width=2.5), hoverinfo="skip"))

axis_common = dict(showgrid=False, zeroline=False, showline=True,
                   linecolor="#111111", linewidth=2, mirror="ticks",
                   ticks="inside", tickcolor="#222222", tickwidth=1.5,
                   showticklabels=False)
fig.update_xaxes(range=[5700, 8000], tickmode="linear", tick0=0, dtick=500,
                 ticklen=14,
                 minor=dict(dtick=100, tick0=0, ticks="inside", ticklen=7,
                            tickcolor="#222222", tickwidth=1.5),
                 **axis_common)
fig.update_yaxes(range=[0, 0.22], tickmode="linear", tick0=0, dtick=0.05,
                 ticklen=20,
                 minor=dict(dtick=0.01, tick0=0, ticks="inside", ticklen=10,
                            tickcolor="#222222", tickwidth=1.5),
                 **axis_common)

ann = []
for pos, txt in zip(x_tick_text_pos, x_tick_text):
    ann.append(dict(x=pos, xref="x", y=-0.048, yref="paper", text=txt,
                    showarrow=False, xanchor="center", yanchor="middle",
                    font=dict(family=FONT, size=40, color="black")))
for pos, txt in zip(y_tick_text_pos, y_tick_text):
    ann.append(dict(x=-0.029, xref="paper", y=pos, yref="y", text=txt,
                    showarrow=False, xanchor="right", yanchor="middle",
                    font=dict(family=FONT, size=40, color="black")))

ann.append(dict(x=0.5, xref="paper", y=-0.13, yref="paper",
                text="Rest Wavelength (Å)", showarrow=False,
                xanchor="center", yanchor="middle",
                font=dict(family=FONT, size=49, color="black")))
ann.append(dict(x=-0.151, xref="paper", y=0.5476, yref="paper",
                text="Flux (shifted)", showarrow=False, textangle=-90,
                xanchor="center", yanchor="middle",
                font=dict(family=FONT, size=54, color="black")))

labels = [
    ("Day +233", 0.9785, 0.9076, "right", BLUE),
    ("SN 2005hk", 0.1315, 0.5876, "left", BLUE),
    ("Day +378", 0.9785, 0.5876, "right", BLUE),
    ("SN 2002cx", 0.1117, 0.2662, "left", BLACK),
    ("Day +277", 0.9785, 0.2662, "right", BLACK),
]
for txt, xp, yp, anc, col in labels:
    ann.append(dict(x=xp, xref="paper", y=yp, yref="paper", text=txt,
                    showarrow=False, xanchor=anc, yanchor="middle",
                    font=dict(family=FONT, size=48, color=col)))

fig.update_layout(
    width=1256, height=864,
    margin=dict(l=192, r=54, t=11, b=128, pad=0),
    paper_bgcolor="white", plot_bgcolor="white",
    showlegend=False,
    annotations=ann,
    shapes=[dict(type="line", xref="paper", yref="paper",
                 x0=1.0508, x1=1.0508, y0=-0.033, y1=-0.13,
                 line=dict(color="#333333", width=1.5))],
)

fig.write_html("out.html")
